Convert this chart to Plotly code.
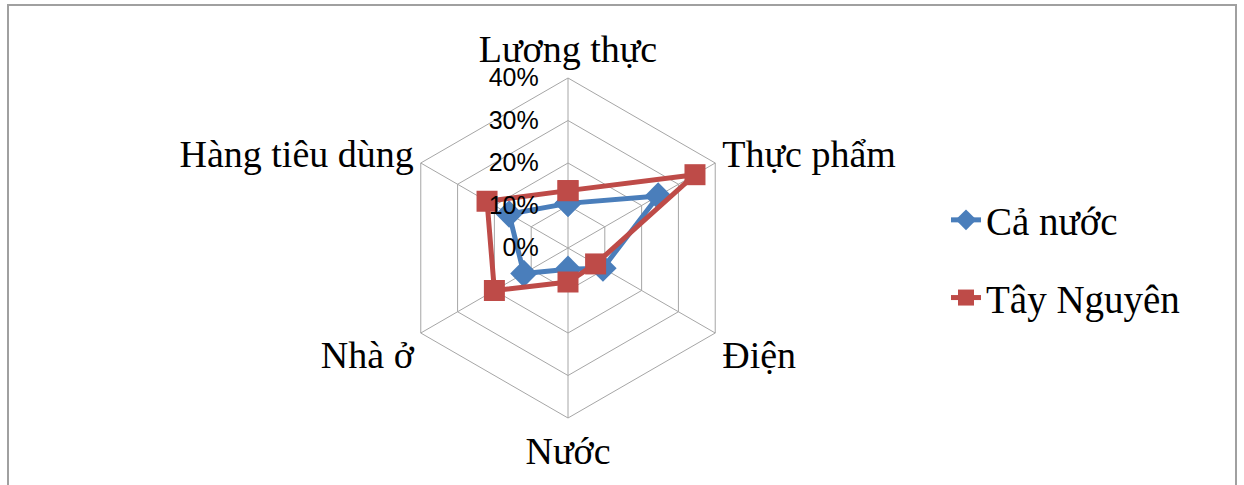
import plotly.graph_objects as go

categories = ["Lương thực", "Thực phẩm", "Điện", "Nước", "Nhà ở", "Hàng tiêu dùng"]
ca_nuoc = [10.5, 24.5, 9.5, 5.0, 12.0, 16.0]
tay_nguyen = [13.5, 34.5, 7.5, 8.0, 20.0, 22.0]
radial_ticks = [0, 10, 20, 30, 40]
tick_text = [f"{v}%" for v in radial_ticks]

W, H = 1244, 485
cx, cy, R = 568, 248, 170

BLUE = "#4a7ebb"
RED = "#be4b48"
GRID = "#a6a6a6"
SERIF = "Liberation Serif, Times New Roman, serif"

fig = go.Figure()
fig.add_trace(go.Scatterpolar(
    r=ca_nuoc + ca_nuoc[:1], theta=categories + categories[:1],
    name="Cả nước", mode="lines+markers",
    line=dict(color=BLUE, width=5),
    marker=dict(symbol="diamond", size=21, color=BLUE),
    legendgroup="a",
))
fig.add_trace(go.Scatterpolar(
    r=tay_nguyen + tay_nguyen[:1], theta=categories + categories[:1],
    name="Tây Nguyên", mode="lines+markers",
    line=dict(color=RED, width=5),
    marker=dict(symbol="square", size=21, color=RED),
    legendgroup="b",
))

fig.update_layout(
    width=W, height=H,
    margin=dict(l=0, r=0, t=0, b=0),
    paper_bgcolor="white",
    plot_bgcolor="white",
    polar=dict(
        domain=dict(x=[(cx - R) / W, (cx + R) / W],
                    y=[(H - cy - R) / H, (H - cy + R) / H]),
        bgcolor="white",
        gridshape="linear",
        angularaxis=dict(
            direction="clockwise", rotation=90,
            categoryorder="array", categoryarray=categories,
            showline=True, linecolor=GRID, linewidth=1,
            gridcolor=GRID, gridwidth=1,
            ticks="",
            tickfont=dict(family=SERIF, size=38, color="black"),
        ),
        radialaxis=dict(
            range=[0, 40], tickvals=radial_ticks, ticktext=tick_text,
            angle=90, side="counterclockwise",
            showline=False, ticks="outside", ticklen=20,
            tickcolor="rgba(0,0,0,0)",
            gridcolor=GRID, gridwidth=1,
            tickfont=dict(family="Liberation Sans, Arial, sans-serif", size=25, color="black"),
            tickangle=90,
        ),
    ),
    showlegend=True,
    legend=dict(
        x=946 / W, y=(H - 188) / H, xanchor="left", yanchor="top",
        font=dict(family=SERIF, size=39, color="black"),
        tracegroupgap=24,
        bgcolor="rgba(0,0,0,0)",
    ),
    shapes=[dict(
        type="rect", xref="paper", yref="paper",
        x0=8 / W, x1=1236 / W, y0=-0.05, y1=(H - 5) / H,
        line=dict(color="#a0a0a0", width=2), fillcolor="rgba(0,0,0,0)",
        layer="below",
    )],
)

fig.write_html(
    "out.html",
    config={"displayModeBar": False},
    post_script="document.body.style.margin='0';document.body.style.overflow='hidden';",
)
